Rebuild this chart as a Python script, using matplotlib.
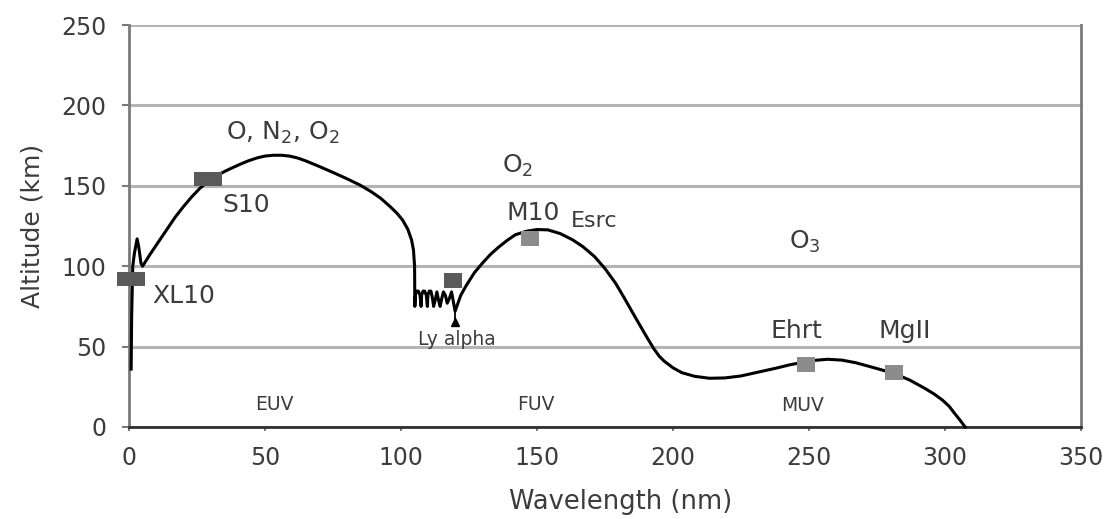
import numpy as np
import matplotlib.pyplot as plt
from matplotlib.path import Path

# penetration altitude curve
wavelength = [0.8, 1.0, 1.4, 2.0, 3.0, 3.6, 4.4, 5.0, 8.0, 11.0, 14.0, 17.0, 20.0, 23.0,
              26.0, 29.0, 32.0, 35.0, 38.0, 41.0, 44.0, 47.0, 50.0, 53.0, 56.0, 59.0,
              62.0, 65.0, 70.0, 75.0, 80.0, 85.0, 89.0, 92.5, 95.8, 98.5, 100.6, 102.5,
              103.9, 104.6, 105.0, 105.1,
              105.3, 105.8, 106.4, 107.0, 107.4, 107.6, 108.1, 108.7, 109.3, 109.7,
              109.9, 110.4, 111.0, 111.6, 112.0, 112.6, 113.2, 113.8, 114.4, 115.0,
              115.6, 116.3, 117.0, 117.8, 118.6, 119.9,
              122.0, 124.0, 127.0, 130.0, 133.0, 136.0, 139.0,
              142.0, 146.0, 150.0, 154.0, 158.5, 163.0, 167.0, 171.2, 175.0, 178.9,
              182.0, 185.3, 188.0, 190.4, 192.9, 195.0, 196.8, 200.0, 203.2, 208.0, 213.4,
              219.0, 224.9, 231.0, 237.7, 243.0, 249.2, 252.5, 256.8, 262.0, 267.1,
              274.0, 281.1, 287.0, 292.6, 296.0, 299.0, 301.5, 303.5, 305.5, 307.4]
altitude = [36, 70, 100, 108, 117, 112, 102, 100, 108, 115.5, 123, 130.5, 137, 143,
            148.3, 152.6, 156, 158.8, 161.2, 163.5, 165.6, 167.3, 168.5, 169, 169, 168.5,
            167.3, 165.5, 162, 158.3, 154.5, 150.4, 146.4, 142.3, 137.4, 133, 128.7, 123,
            116.3, 110, 100, 75,
            82, 84.5, 84.5, 82, 75, 82, 84.5, 84.5, 82, 75,
            82, 84.5, 84.5, 80, 75, 79, 84, 79, 75, 80,
            84, 82, 77, 80, 84, 72,
            82, 88, 96, 102, 107.5, 112, 116,
            119.5, 121.7, 122.8, 122.6, 120.3, 116.5, 112, 105.9, 98.5, 89.4,
            80.5, 70.7, 62.8, 55.8, 48.8, 43.9, 40.9, 36.8, 33.8, 31.5, 30.3,
            30.5, 31.7, 34, 36.5, 38.7, 40.6, 41.5, 42.1, 41.6, 40,
            36.8, 33.4, 29.2, 24, 20.5, 16.8, 12.9, 8.5, 4.3, 0]

# instrument / band markers
wide_x = [0.7, 29.0]
wide_y = [92, 154]
lya_mark_x = [119.3]
lya_mark_y = [91.5]
light_x = [147.6, 248.8, 281.4]
light_y = [117.5, 39.1, 34.4]

dark_grey = '#5a5a5a'
light_grey = '#8c8c8c'
text_grey = '#3c3c3c'

plt.rcParams['font.family'] = ['DejaVu Sans']

fig = plt.figure(figsize=(11.05, 5.19), dpi=100)
ax = fig.add_axes([0.1167, 0.1773, 0.8616, 0.7745])

ax.set_xlim(0, 350)
ax.set_ylim(0, 250)
ax.set_xticks(np.arange(0, 351, 50))
ax.set_yticks(np.arange(0, 251, 50))

ax.grid(axis='y', color='#b4b4b4', linewidth=2.2)
ax.set_axisbelow(True)
ax.spines['top'].set_visible(False)
for side in ['left', 'right']:
    ax.spines[side].set_color('#7a7a7a')
    ax.spines[side].set_linewidth(2.0)
ax.spines['bottom'].set_color('#303030')
ax.spines['bottom'].set_linewidth(2.0)

ax.tick_params(axis='y', length=5, width=1.5, color='#7a7a7a', pad=11,
               labelsize=17, labelcolor=text_grey)
ax.tick_params(axis='x', length=3, width=1.5, color='#7a7a7a', pad=11,
               labelsize=17, labelcolor=text_grey)

ax.plot(wavelength, altitude, color='black', linewidth=2.2, solid_joinstyle='round',
        zorder=3, clip_on=False)

# little Ly alpha arrow
ax.plot([119.9, 119.9], [66, 72], color='black', linewidth=1.3, zorder=3)
ax.plot([119.9], [65.5], marker='^', color='black', markersize=6, zorder=3)

rect = Path([(-1, -0.5), (1, -0.5), (1, 0.5), (-1, 0.5), (-1, -0.5)])
box = Path([(-1, -0.8), (1, -0.8), (1, 0.8), (-1, 0.8), (-1, -0.8)])
ax.plot(wide_x, wide_y, linestyle='none', marker=rect, markersize=20,
        color=dark_grey, markeredgewidth=0, zorder=4, clip_on=False)
ax.plot(lya_mark_x, lya_mark_y, linestyle='none', marker=box, markersize=13.5,
        color=dark_grey, markeredgewidth=0, zorder=4)
ax.plot(light_x, light_y, linestyle='none', marker=box, markersize=13.5,
        color=light_grey, markeredgewidth=0, zorder=4)

big = 18
ax.text(35.5, 178.5, r'O, N$_2$, O$_2$', fontsize=big, color=text_grey)
ax.text(34.4, 133.7, 'S10', fontsize=big, color=text_grey)
ax.text(8.7, 77, 'XL10', fontsize=big, color=text_grey)
ax.text(137.2, 158, r'O$_2$', fontsize=big, color=text_grey)
ax.text(138.8, 128.7, 'M10', fontsize=big, color=text_grey)
ax.text(162.6, 124.6, 'Esrc', fontsize=16, color=text_grey)
ax.text(242.8, 111, r'O$_3$', fontsize=big, color=text_grey)
ax.text(236.0, 55.1, 'Ehrt', fontsize=big, color=text_grey)
ax.text(275.4, 55.1, 'MgII', fontsize=big, color=text_grey)
ax.text(120.6, 51, 'Ly alpha', fontsize=13.5, color=text_grey, ha='center')
ax.text(46.5, 10.6, 'EUV', fontsize=13.5, color=text_grey)
ax.text(142.8, 10.6, 'FUV', fontsize=13.5, color=text_grey)
ax.text(239.6, 10.1, 'MUV', fontsize=13.5, color=text_grey)

ax.set_xlabel('Wavelength (nm)', fontsize=18.5, color=text_grey, labelpad=14)
ax.xaxis.set_label_coords(0.516, -0.155)
ax.set_ylabel('Altitude (km)', fontsize=18, color=text_grey, labelpad=12)

fig.savefig('out.png', dpi=100)
